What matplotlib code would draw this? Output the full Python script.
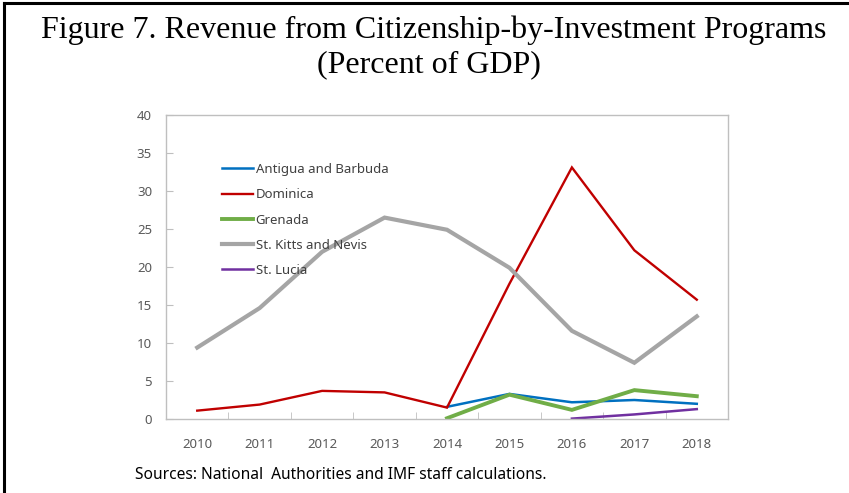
import numpy as np
import matplotlib
matplotlib.use("Agg")
import matplotlib.pyplot as plt
from matplotlib.lines import Line2D

#------------- 数据 ---------------------#
years = ['2010', '2011', '2012', '2013', '2014', '2015', '2016', '2017', '2018']
antigua = [np.nan, np.nan, np.nan, np.nan, 1.6, 3.3, 2.2, 2.5, 2.0]
dominica = [1.1, 1.9, 3.7, 3.5, 1.5, 17.8, 33.1, 22.2, 15.7]
grenada = [np.nan, np.nan, np.nan, np.nan, 0.1, 3.2, 1.2, 3.8, 3.0]
st_kitts = [9.4, 14.6, 22.0, 26.5, 24.9, 19.9, 11.6, 7.4, 13.5]
st_lucia = [np.nan, np.nan, np.nan, np.nan, np.nan, np.nan, 0.05, 0.6, 1.3]

series = [
    ('Antigua and Barbuda', antigua, '#0070C0', 1.8),
    ('Dominica', dominica, '#C00000', 1.7),
    ('Grenada', grenada, '#70AD47', 2.8),
    ('St. Kitts and Nevis', st_kitts, '#A5A5A5', 3.0),
    ('St. Lucia', st_lucia, '#7030A0', 1.8),
]

plt.rcParams['font.family'] = ['Noto Sans', 'DejaVu Sans']

#------------- 画布 ---------------------#
fig = plt.figure(figsize=(8.49, 4.93), dpi=100)
ax = fig.add_axes([166/849, 74/493, 562/849, 304/493])

x = np.arange(len(years))
# 画折线, 图例顺序与系列顺序一致
for name, vals, col, lw in series:
    ax.plot(x, vals, color=col, lw=lw, solid_joinstyle='miter', label=name)

ax.set_xlim(-0.5, len(years) - 0.5)
ax.set_ylim(0, 40)
ax.set_yticks(np.arange(0, 41, 5))
ax.set_xticks(x)
ax.set_xticklabels(years)
ax.set_xticks(np.arange(-0.5, len(years), 1), minor=True)

grey = '#BFBFBF'
for s in ax.spines.values():
    s.set_color(grey)
    s.set_linewidth(1.0)
ax.tick_params(axis='x', which='major', length=0, pad=14, labelsize=9.5, labelcolor='#595959')
ax.tick_params(axis='x', which='minor', direction='in', length=5, color=grey)
ax.tick_params(axis='y', direction='in', length=5, color=grey, pad=10, labelsize=9.5, labelcolor='#595959')

#------------- 图例 ---------------------#
leg = ax.legend(loc='upper left', bbox_to_anchor=(0.0996, 0.842), frameon=False,
                borderpad=0, borderaxespad=0, handlelength=2.35, handletextpad=0.2,
                labelspacing=0.93, fontsize=9.5)
for t in leg.get_texts():
    t.set_color('#404040')

#------------- 标题和来源 ---------------------#
fig.text(434/849, 1 - 30/493, 'Figure 7. Revenue from Citizenship-by-Investment Programs',
         ha='center', va='center', family='Liberation Serif', fontsize=23)
fig.text(429/849, 1 - 65/493, '(Percent of GDP)', ha='center', va='center',
         family='Liberation Serif', fontsize=23)
fig.text(135/849, 1 - 475/493, 'Sources: National  Authorities and IMF staff calculations.',
         ha='left', va='center', fontsize=11.2, color='black')

# 外框: 左边和上边的黑线
fig.add_artist(Line2D([4/849, 4/849], [0, 1 - 3/493], color='black', lw=2.2, transform=fig.transFigure))
fig.add_artist(Line2D([4/849, 1], [1 - 3/493, 1 - 3/493], color='black', lw=2.2, transform=fig.transFigure))

fig.savefig('out.png', dpi=100)
